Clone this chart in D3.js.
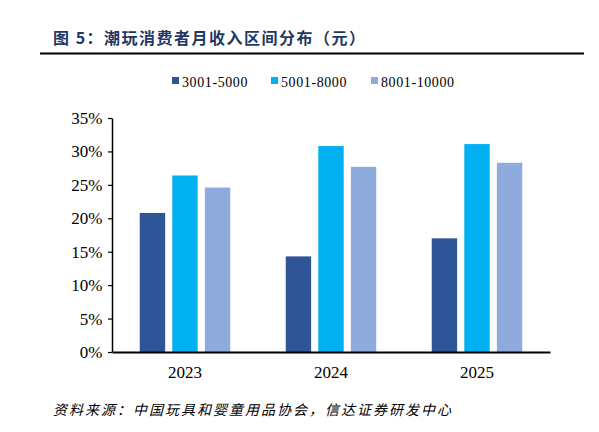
<!DOCTYPE html>
<html lang="zh">
<head>
  <meta charset="UTF-8">
  <title>潮玩消费者月收入区间分布</title>
  <script src="https://d3js.org/d3.v7.min.js"></script>
  <style>
    body { margin: 0; background: #fff; }
    svg { display: block; }
    .tick text { font-family: "Liberation Serif", "Times New Roman", serif; fill: #000; }
  </style>
</head>
<body>
  <svg width="599" height="432"></svg>
  <script>
    const years = ["2023", "2024", "2025"];
    const seriesNames = ["3001-5000", "5001-8000", "8001-10000"];
    const income3001 = [20.8, 14.3, 17.0];
    const income5001 = [26.4, 30.8, 31.1];
    const income8001 = [24.6, 27.7, 28.3];
    const yTicks = [0, 5, 10, 15, 20, 25, 30, 35];

    const colors = ["#2F5597", "#00B0F0", "#8FAADC"];
    const seriesValues = [income3001, income5001, income8001];

    const svg = d3.select("svg");
    const margin = {top: 118, right: 49, bottom: 80, left: 112};
    const width = 599 - margin.left - margin.right,
          height = 432 - margin.top - margin.bottom;

    // title and rule
    svg.append("text")
      .attr("x", 53).attr("y", 44)
      .attr("font-family", "'Noto Sans CJK SC', sans-serif")
      .attr("font-weight", 600)
      .attr("font-size", 16)
      .attr("letter-spacing", 1.5)
      .attr("fill", "#1F3864")
      .text("图 5：潮玩消费者月收入区间分布（元）");
    svg.append("line")
      .attr("x1", 40).attr("x2", 584)
      .attr("y1", 53.5).attr("y2", 53.5)
      .attr("stroke", "#000").attr("stroke-width", 2);

    // legend
    const legendX = [172, 271, 371];
    seriesNames.forEach((name, i) => {
      svg.append("rect")
        .attr("x", legendX[i]).attr("y", 77)
        .attr("width", 7).attr("height", 7)
        .attr("fill", colors[i]);
      svg.append("text")
        .attr("x", legendX[i] + 10).attr("y", 87)
        .attr("font-family", "'Liberation Serif', serif")
        .attr("font-size", 14)
        .attr("letter-spacing", 0.6)
        .attr("fill", "#000")
        .text(name);
    });

    const g = svg.append("g").attr("transform", `translate(${margin.left},${margin.top})`);

    const x0 = d3.scaleBand().domain(years).range([0, width]).paddingInner(0.38).paddingOuter(0.19);
    const x1 = d3.scaleBand().domain(d3.range(seriesNames.length)).range([0, x0.bandwidth()]).paddingInner(0.22);
    const y = d3.scaleLinear().domain([0, 35]).range([height, 0]);

    seriesValues.forEach((vals, i) => {
      g.selectAll(".bar-" + i)
        .data(vals)
        .enter().append("rect")
        .attr("x", (d, j) => x0(years[j]) + x1(i))
        .attr("y", d => y(d))
        .attr("width", x1.bandwidth())
        .attr("height", d => height - y(d))
        .attr("fill", colors[i]);
    });

    const yAxis = g.append("g")
      .call(d3.axisLeft(y).tickValues(yTicks).tickFormat(d => d + "%").tickSize(4).tickSizeOuter(0));
    yAxis.selectAll("text").attr("font-size", 17).attr("dx", "-0.15em");
    yAxis.select(".domain").attr("stroke-width", 1.5);
    yAxis.selectAll(".tick line").attr("stroke-width", 1.2);

    const xAxis = g.append("g")
      .attr("transform", `translate(0,${height})`)
      .call(d3.axisBottom(x0).tickSize(0).tickSizeOuter(0));
    xAxis.selectAll("text").attr("font-size", 17).attr("dy", "1.35em");
    xAxis.select(".domain").attr("stroke-width", 2);

    // source
    svg.append("text")
      .attr("x", 53).attr("y", 415)
      .attr("font-family", "'Noto Sans CJK SC', sans-serif")
      .attr("font-style", "italic")
      .attr("font-size", 14)
      .attr("letter-spacing", 2)
      .attr("fill", "#000")
      .text("资料来源：中国玩具和婴童用品协会，信达证券研发中心");
  </script>
</body>
</html>
